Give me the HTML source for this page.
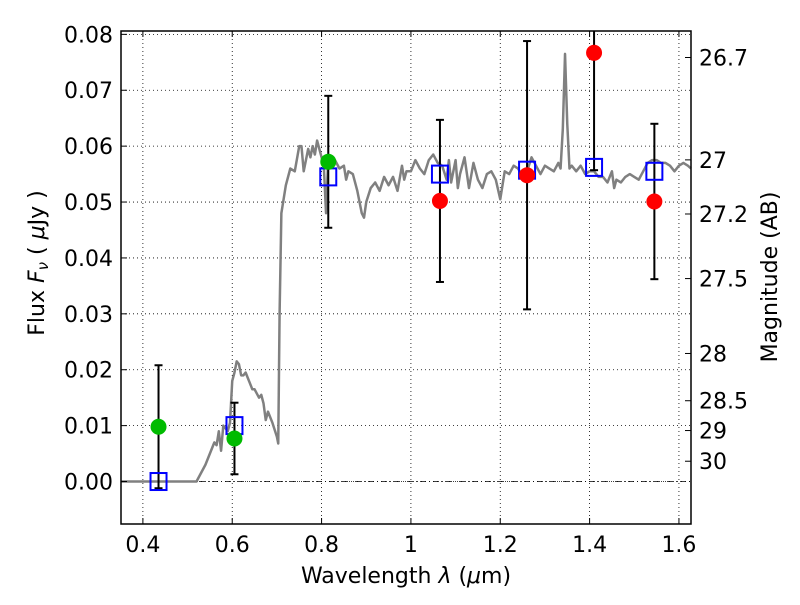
<!DOCTYPE html>
<html><head><meta charset="utf-8"><style>
body{margin:0;background:#fff}
svg{font-family:"DejaVu Sans","Liberation Sans",sans-serif}
</style></head><body>
<svg id="chart" width="800" height="600" viewBox="0 0 800 600" xmlns="http://www.w3.org/2000/svg">
<rect width="800" height="600" fill="#fff"/>
<g id="grid"></g>
<g id="spec"></g>
<g id="marks"></g>
<g id="axes"></g>
<text x="406" y="583" font-size="22" text-anchor="middle">Wavelength  <tspan font-style="italic">λ</tspan> (<tspan font-style="italic">μ</tspan>m)</text>
<text transform="translate(44,263) rotate(-90)" font-size="22" text-anchor="middle">Flux  <tspan font-style="italic">F<tspan font-size="15" dy="4">ν</tspan></tspan><tspan dy="-4">  ( </tspan><tspan font-style="italic">μ</tspan>Jy )</text>
<text transform="translate(777,277) rotate(-90)" font-size="22" text-anchor="middle">Magnitude (AB)</text>
</svg>
<script>
const xTicks=[0.4,0.6,0.8,1.0,1.2,1.4,1.6];
const xTickLabels=["0.4","0.6","0.8","1","1.2","1.4","1.6"];
const yTicks=[0,0.01,0.02,0.03,0.04,0.05,0.06,0.07,0.08];
const yTickLabels=["0.00","0.01","0.02","0.03","0.04","0.05","0.06","0.07","0.08"];
const magTicks=[26.7,27,27.2,27.5,28,28.5,29,30];
const magLabels=["26.7","27","27.2","27.5","28","28.5","29","30"];
const specWave=[0.35,0.52,0.54,0.56,0.565,0.57,0.575,0.58,0.59,0.595,0.60,0.605,0.61,0.615,0.62,0.625,0.63,0.64,0.645,0.65,0.66,0.665,0.67,0.675,0.68,0.69,0.70,0.703,0.706,0.71,0.72,0.73,0.74,0.75,0.755,0.76,0.77,0.775,0.78,0.785,0.79,0.80,0.805,0.81,0.815,0.82,0.83,0.84,0.85,0.855,0.86,0.87,0.88,0.89,0.895,0.90,0.91,0.92,0.93,0.94,0.95,0.96,0.97,0.98,0.985,0.99,1.0,1.01,1.02,1.03,1.04,1.05,1.06,1.07,1.08,1.085,1.09,1.10,1.105,1.11,1.12,1.13,1.14,1.15,1.16,1.17,1.18,1.19,1.20,1.21,1.22,1.23,1.24,1.25,1.26,1.27,1.28,1.29,1.30,1.31,1.32,1.33,1.335,1.34,1.345,1.35,1.355,1.36,1.37,1.38,1.39,1.40,1.41,1.42,1.43,1.44,1.45,1.455,1.46,1.47,1.48,1.49,1.50,1.51,1.52,1.53,1.54,1.55,1.56,1.57,1.58,1.59,1.60,1.61,1.62,1.627];
const specFlux=[0,0,0.003,0.007,0.0065,0.009,0.0055,0.010,0.009,0.0105,0.018,0.0195,0.0215,0.021,0.019,0.019,0.0195,0.0175,0.0165,0.0165,0.015,0.0155,0.014,0.011,0.0125,0.0105,0.008,0.0068,0.03,0.048,0.053,0.056,0.0555,0.06,0.06,0.0555,0.0595,0.058,0.06,0.0585,0.061,0.058,0.0565,0.048,0.058,0.0565,0.0575,0.056,0.0565,0.054,0.0555,0.055,0.052,0.048,0.0472,0.050,0.0525,0.0535,0.052,0.0545,0.053,0.0545,0.052,0.0565,0.054,0.0555,0.0555,0.0575,0.056,0.055,0.0575,0.0585,0.057,0.0565,0.054,0.0575,0.0535,0.0575,0.0525,0.055,0.058,0.0525,0.057,0.054,0.0525,0.055,0.0555,0.054,0.0505,0.0555,0.055,0.0565,0.056,0.0545,0.0555,0.058,0.0565,0.055,0.0565,0.056,0.0555,0.057,0.056,0.063,0.0765,0.064,0.056,0.0565,0.0555,0.0565,0.055,0.0555,0.0555,0.0545,0.0545,0.0535,0.0555,0.0525,0.054,0.0535,0.0545,0.055,0.0545,0.054,0.0555,0.057,0.0575,0.0575,0.057,0.057,0.0565,0.0555,0.0565,0.057,0.0565,0.056];
const modelWave=[0.435,0.605,0.815,1.065,1.26,1.41,1.545];
const modelFlux=[0.0,0.0100,0.0545,0.0550,0.0557,0.0562,0.0555];
const obsWave=[0.435,0.605,0.815,1.065,1.26,1.41,1.545];
const obsFlux=[0.0098,0.0077,0.0572,0.0502,0.0548,0.0767,0.0501];
const obsErr=[0.0110,0.0064,0.0118,0.0145,0.0240,0.0210,0.0139];
const obsDetected=[true,true,true,false,false,false,false];

const L=121,R=691,T=31,B=524,xmin=0.351,xmax=1.627,ymin=-0.0076,ymax=0.0806;
const X=v=>L+(v-xmin)/(xmax-xmin)*(R-L);
const Y=v=>B-(v-ymin)/(ymax-ymin)*(B-T);
const magToFlux=m=>Math.pow(10,(23.9-m)/2.5);
const NS="http://www.w3.org/2000/svg";
function mk(tag,attrs,parent){const e=document.createElementNS(NS,tag);for(const k in attrs)e.setAttribute(k,attrs[k]);parent.appendChild(e);return e;}
const grid=document.getElementById('grid'),spec=document.getElementById('spec'),marks=document.getElementById('marks'),axes=document.getElementById('axes');
xTicks.forEach(v=>{const l=mk('line',{x1:X(v),x2:X(v),y1:T,y2:B,stroke:'#000','stroke-width':0.8,'stroke-dasharray':'1,3'},grid);

});
yTicks.forEach(v=>{const l=mk('line',{x1:L,x2:R,y1:Y(v),y2:Y(v),stroke:'#000','stroke-width':0.8,'stroke-dasharray':'1,3'},grid);

});
const zl=mk('line',{x1:L,x2:R,y1:Y(0),y2:Y(0),stroke:'#000','stroke-width':0.8,'stroke-dasharray':'6,3,1,3'},grid);


const sp=mk('polyline',{points:specWave.map((w,i)=>X(w)+','+Y(specFlux[i])).join(' '),fill:'none',stroke:'#808080','stroke-width':2.5,'stroke-linejoin':'round'},spec);


obsWave.forEach((w,i)=>{
 const x=X(w),lo=Math.max(obsFlux[i]-obsErr[i],ymin),hi=Math.min(obsFlux[i]+obsErr[i],ymax);
 const g=mk('g',{},marks);
 
 
 mk('line',{x1:x,x2:x,y1:Y(lo),y2:Y(hi),stroke:'#000','stroke-width':2},g);
 mk('line',{x1:x-4,x2:x+4,y1:Y(lo),y2:Y(lo),stroke:'#000','stroke-width':2},g);
 if(obsFlux[i]+obsErr[i]<ymax)mk('line',{x1:x-4,x2:x+4,y1:Y(hi),y2:Y(hi),stroke:'#000','stroke-width':2},g);
});
modelWave.forEach((w,i)=>{const r=mk('rect',{x:X(w)-8,y:Y(modelFlux[i])-8.5,width:16,height:17,fill:'none',stroke:'#0000ff','stroke-width':2},marks);

});
obsWave.forEach((w,i)=>{const c=mk('circle',{cx:X(w),cy:Y(obsFlux[i]),r:8,fill:obsDetected[i]?'#00bb00':'#ff0000'},marks);

});
const fr=mk('rect',{x:L,y:T,width:R-L,height:B-T,fill:'none',stroke:'#000','stroke-width':1.5},axes);


xTicks.forEach((v,i)=>{const x=X(v);
 mk('line',{x1:x,x2:x,y1:B,y2:B-6,stroke:'#000'},axes);mk('line',{x1:x,x2:x,y1:T,y2:T+6,stroke:'#000'},axes);
 const t=mk('text',{x:x,y:B+28,'font-size':22,'text-anchor':'middle'},axes);t.textContent=xTickLabels[i];
 
 });
yTicks.forEach((v,i)=>{const y=Y(v);
 mk('line',{x1:L,x2:L+6,y1:y,y2:y,stroke:'#000'},axes);
 const t=mk('text',{x:L-8,y:y+8,'font-size':22,'text-anchor':'end'},axes);t.textContent=yTickLabels[i];
 
 });
magTicks.forEach((m,i)=>{const y=Y(magToFlux(m));
 mk('line',{x1:R,x2:R-6,y1:y,y2:y,stroke:'#000'},axes);
 const t=mk('text',{x:R+8,y:y+8,'font-size':22,'text-anchor':'start'},axes);t.textContent=magLabels[i];
 
 });
</script>
</body></html>
